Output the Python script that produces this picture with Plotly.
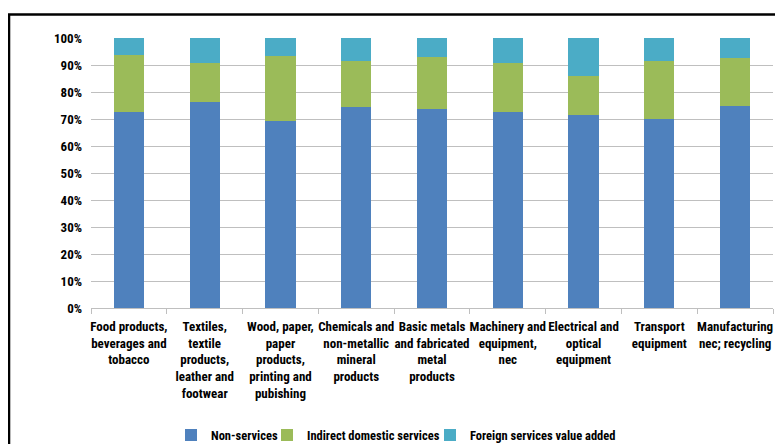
import plotly.graph_objects as go

categories = [
    "Food products,<br>beverages and<br>tobacco",
    "Textiles,<br>textile<br>products,<br>leather and<br>footwear",
    "Wood, paper,<br>paper<br>products,<br>printing and<br>pubishing",
    "Chemicals and<br>non-metallic<br>mineral<br>products",
    "Basic metals<br>and fabricated<br>metal<br>products",
    "Machinery and<br>equipment,<br>nec",
    "Electrical and<br>optical<br>equipment",
    "Transport<br>equipment",
    "Manufacturing<br>nec; recycling",
]
non_services = [72.5, 76.4, 69.4, 74.5, 73.8, 72.5, 71.3, 69.9, 74.8]
indirect_domestic = [21.3, 14.5, 24.0, 17.1, 19.1, 18.3, 14.7, 21.5, 17.9]
foreign_services = [6.2, 9.1, 6.6, 8.4, 7.1, 9.2, 14.0, 8.6, 7.3]
series_names = ["Non-services", "Indirect domestic services", "Foreign services value added"]
series_colors = ["#4F81BD", "#9BBB59", "#4BACC6"]

FONT = "Roboto Condensed, Lato, sans-serif"
L, R, T, B, W, H = 83, 10, 30, 136, 775, 436
PW = W - L - R
legend_text_px = [213, 309, 472]  # where each legend text starts in the page

fig = go.Figure()
legend_ids = ["legend", "legend2", "legend3"]
for name, vals, color, lid in zip(series_names,
                                  [non_services, indirect_domestic, foreign_services],
                                  series_colors, legend_ids):
    fig.add_trace(go.Bar(x=categories, y=vals, name=name, marker_color=color,
                         marker_line_width=0, legend=lid))

legend_common = dict(orientation="h", yref="container", y=0.02, yanchor="middle",
                     xanchor="left", font=dict(family=FONT, size=12.5, weight="bold"),
                     itemwidth=30, bgcolor="rgba(0,0,0,0)")
legends = {}
for lid, tx in zip(legend_ids, legend_text_px):
    legends[lid] = dict(legend_common, x=(tx - 8 - 42 - L) / PW)

fig.update_layout(
    barmode="stack",
    bargap=0.6,
    width=W, height=H,
    margin=dict(l=L, r=R, t=T, b=B),
    plot_bgcolor="white", paper_bgcolor="white",
    font=dict(family=FONT, size=13, color="#000000"),
    showlegend=True,
    shapes=[dict(type="rect", xref="paper", yref="paper",
                 x0=-0.1202, x1=1.05, y0=-0.7, y1=1.087,
                 line=dict(color="black", width=2.5), layer="below")],
    **legends,
)
fig.update_yaxes(range=[0, 100], dtick=10, ticksuffix="%",
                 showgrid=True, gridcolor="#BFBFBF", gridwidth=1,
                 zeroline=False, showline=False, ticklabelstandoff=8,
                 tickfont=dict(family=FONT, size=13, weight="bold"))
fig.update_xaxes(tickson="boundaries", ticks="outside", ticklen=5, tickcolor="#BFBFBF",
                 showline=True, linecolor="#BFBFBF", linewidth=1,
                 tickangle=0, ticklabelstandoff=6,
                 tickfont=dict(family=FONT, size=13, weight="bold"))

fig.write_html("out.html")
